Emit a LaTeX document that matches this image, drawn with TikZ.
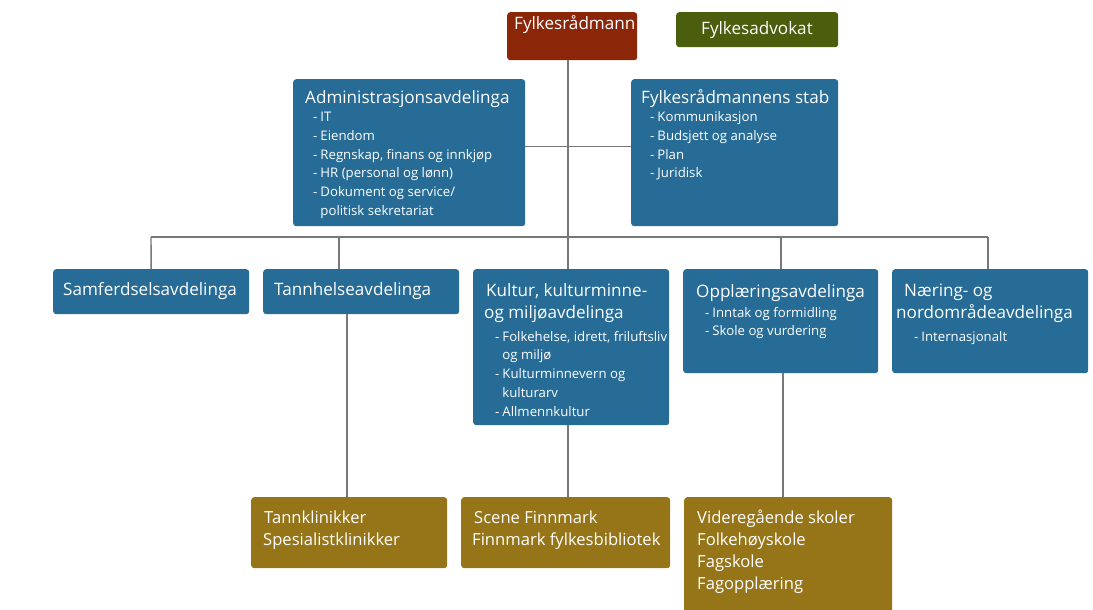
\documentclass[tikz,border=0pt]{standalone}
\usepackage{fontspec}
\setmainfont{Open Sans}
\usetikzlibrary{calc}
\definecolor{boxblue}{HTML}{266C96}
\definecolor{boxred}{HTML}{8B2608}
\definecolor{boxgreen}{HTML}{4B5E0E}
\definecolor{boxgold}{HTML}{967518}
\definecolor{linegray}{HTML}{777777}
\begin{document}
\begin{tikzpicture}[x=1pt,y=-1pt,
  box/.style={rectangle, rounded corners=3pt, inner sep=0pt, anchor=north west, draw=none},
  bluebox/.style={box, fill=boxblue},
  redbox/.style={box, fill=boxred},
  greenbox/.style={box, fill=boxgreen},
  goldbox/.style={box, fill=boxgold},
  conn/.style={draw=linegray, line width=1.4pt},
  ttl/.style={text=white, font=\fontsize{17.1}{22}\selectfont, inner sep=0pt, anchor=base west},
  big/.style={text=white, font=\fontsize{16.6}{22}\selectfont, inner sep=0pt, anchor=base west},
  itm/.style={text=white, font=\fontsize{13.2}{18.8}\selectfont, inner sep=0pt, anchor=base west},
]
\useasboundingbox (0,0) rectangle (1093,610);
\clip (0,0) rectangle (1093,610);

% boxes
\node[redbox, minimum width=130pt, minimum height=48pt] (ra) at (507,12) {};
\node[greenbox, minimum width=162pt, minimum height=35pt] (adv) at (676,12) {};
\node[bluebox, minimum width=232pt, minimum height=147pt] (admin) at (293,79) {};
\node[bluebox, minimum width=207pt, minimum height=147pt] (stab) at (631,79) {};
\node[bluebox, minimum width=196pt, minimum height=45pt] (samf) at (53,269) {};
\node[bluebox, minimum width=196pt, minimum height=45pt] (tann) at (263,269) {};
\node[bluebox, minimum width=196pt, minimum height=156pt] (kult) at (473,269) {};
\node[bluebox, minimum width=195pt, minimum height=104pt] (opp) at (683,269) {};
\node[bluebox, minimum width=196pt, minimum height=104pt] (naer) at (892,269) {};
\node[goldbox, minimum width=196pt, minimum height=71pt] (tk) at (251,497) {};
\node[goldbox, minimum width=209pt, minimum height=71pt] (scene) at (461,497) {};
\node[goldbox, minimum width=208pt, minimum height=130pt] (vgs) at (684,497) {};

% texts
\node[ttl] (raT) at (514,30) {Fylkesrådmann};
\node[ttl, anchor=base] (advT) at (757,35) {Fylkesadvokat};

\node[ttl] (adminT) at (305,103) {Administrasjonsavdelinga};
\node[itm] (adminI) at (313,121.5) {\begin{tabular}[t]{@{}l@{\hspace{3pt}}l@{}}
- & IT\\
- & Eiendom\\
- & Regnskap, finans og innkjøp\\
- & HR (personal og lønn)\\
- & Dokument og service/\\
  & politisk sekretariat
\end{tabular}};

\node[ttl] (stabT) at (641,103) {Fylkesrådmannens stab};
\node[itm] (stabI) at (650,121.5) {\begin{tabular}[t]{@{}l@{\hspace{3pt}}l@{}}
- & Kommunikasjon\\
- & Budsjett og analyse\\
- & Plan\\
- & Juridisk
\end{tabular}};

\node[ttl] (samfT) at (63,295) {Samferdselsavdelinga};
\node[ttl] (tannT) at (274,295) {Tannhelseavdelinga};

\node[ttl] (kultT) at (484,296) {\begin{tabular}[t]{@{}l@{}}
\hspace{2pt}Kultur, kulturminne-\\
og miljøavdelinga
\end{tabular}};
\node[itm] (kultI) at (495,341) {\begin{tabular}[t]{@{}l@{\hspace{3pt}}l@{}}
- & Folkehelse, idrett, friluftsliv\\
  & og miljø\\
- & Kulturminnevern og\\
  & kulturarv\\
- & Allmennkultur
\end{tabular}};

\node[ttl] (oppT) at (696,297) {Opplæringsavdelinga};
\node[itm] (oppI) at (705,317) {\begin{tabular}[t]{@{}l@{\hspace{3pt}}l@{}}
- & Inntak og formidling\\
- & Skole og vurdering
\end{tabular}};

\node[ttl] (naerT) at (896,296) {\begin{tabular}[t]{@{}l@{}}
\hspace{8pt}Næring- og\\
nordområdeavdelinga
\end{tabular}};
\node[itm] (naerI) at (914,341) {\begin{tabular}[t]{@{}l@{\hspace{3pt}}l@{}}
- & Internasjonalt
\end{tabular}};

\node[big] (tkT) at (263,523) {\begin{tabular}[t]{@{}l@{}}
\hspace{1pt}Tannklinikker\\
Spesialistklinikker
\end{tabular}};
\node[big] (sceneT) at (472,523) {\begin{tabular}[t]{@{}l@{}}
\hspace{2pt}Scene Finnmark\\
Finnmark fylkesbibliotek
\end{tabular}};
\node[big] (vgsT) at (697,523) {\begin{tabular}[t]{@{}l@{}}
Videregående skoler\\
Folkehøyskole\\
Fagskole\\
Fagopplæring
\end{tabular}};

% connectors
\coordinate (j) at (568,237);
\coordinate (busL) at (151,237);
\coordinate (busR) at (988,237);
\coordinate (hl) at (0,146.5);
\coordinate (tdrop) at (339,237);
\coordinate (odrop) at (781,237);
\coordinate (tbot) at (347,0);
\coordinate (obot) at (783,0);

\draw[conn] (j |- ra.south) -- (j);
\draw[conn] (admin.east |- hl) -- (stab.west |- hl);
\draw[conn] (busL) -- (busR);
\draw[conn] (busL) -- (samf.north);
\draw[conn] (tdrop) -- (tdrop |- tann.north);
\draw[conn] (j) -- (j |- kult.north);
\draw[conn] (odrop) -- (odrop |- opp.north);
\draw[conn] (busR) -- (busR |- naer.north);
\draw[conn] (tbot |- tann.south) -- (tbot |- tk.north);
\draw[conn] (j |- kult.south) -- (j |- scene.north);
\draw[conn] (obot |- opp.south) -- (obot |- vgs.north);
\end{tikzpicture}
\end{document}
